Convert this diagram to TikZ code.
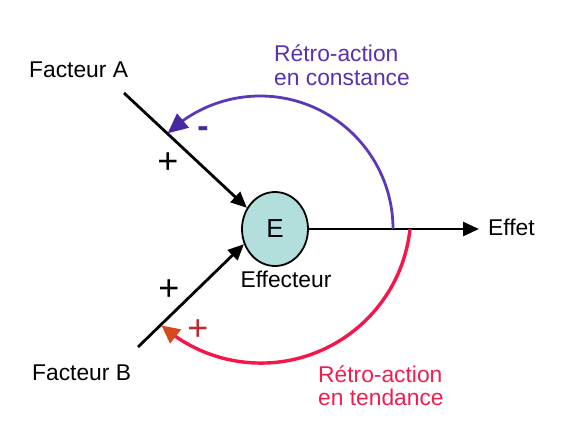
\documentclass[tikz,border=0pt]{standalone}
\usepackage{fontspec}
\setmainfont{Liberation Sans}
\usetikzlibrary{arrows.meta,bending,shapes.geometric}
\definecolor{purp}{RGB}{92,56,182}
\definecolor{purptxt}{RGB}{88,50,175}
\definecolor{purphead}{RGB}{72,40,160}
\definecolor{redarc}{RGB}{245,22,75}
\definecolor{redtxt}{RGB}{240,30,80}
\definecolor{redhead}{RGB}{215,72,28}
\definecolor{redplus}{RGB}{192,40,45}
\definecolor{efill}{RGB}{178,223,219}
\tikzset{
  lbl/.style={inner sep=0pt, font=\fontsize{22.8}{25}\selectfont},
  sign/.style={inner sep=0pt, font=\fontsize{36}{36}\selectfont},
  flow/.style={line width=2.8pt, -{Triangle[length=16pt,width=14pt]}},
}
\begin{document}
\begin{tikzpicture}[x=1pt,y=-1pt]
\useasboundingbox (0,0) rectangle (569,446);
% effector
\node[ellipse, draw, line width=1.8pt, fill=efill, minimum width=66pt, minimum height=74pt, inner sep=0pt,
      font=\fontsize{26}{26}\selectfont] (E) at (275,229) {E};
\node[lbl, anchor=base] (Eff) at (286,287) {Effecteur};
% factors
\coordinate (FA) at (124,93);
\coordinate (FB) at (138,347);
\node[lbl, anchor=base west] (tA) at (29,78) {Facteur A};
\node[lbl, anchor=base west] (tB) at (32,380) {Facteur B};
\draw[flow] (FA) -- (E.143);
\draw[flow] (FB) -- (E.206);
% effect
\node[lbl, anchor=base west] (tEff) at (488,235) {Effet};
\coordinate (Out) at (479,229);
\draw[flow] (E.east) -- (Out);
% signs
\node[sign] (pA) at (168,163) {+};
\node[sign] (pB) at (169,290) {+};
\node[sign, text=redplus] (pR) at (198,330) {+};
\node[inner sep=0pt, font=\fontsize{34}{34}\selectfont\bfseries, text=purphead] (mP) at (203,132) {-};
% feedback in constance
\coordinate (fbP) at (393,229);
\draw[purp, line width=2.8pt, -{Triangle[length=20pt,width=18pt,color=purphead,flex]}]
  (fbP) arc[start angle=0, end angle=-134, radius=133];
\node[lbl, text=purptxt, anchor=base west] (tP1) at (274,62) {Rétro-action};
\node[lbl, text=purptxt, anchor=base west] (tP2) at (274,86) {en constance};
% feedback in tendance
\coordinate (fbR) at (410,229);
\draw[redarc, line width=3.4pt, -{Triangle[length=18pt,width=17pt,color=redhead,flex]}]
  (fbR) arc[start angle=6.1, end angle=131.5, radius=150];
\node[lbl, text=redtxt, anchor=base west] (tR1) at (318,382) {Rétro-action};
\node[lbl, text=redtxt, anchor=base west] (tR2) at (318,405) {en tendance};
\end{tikzpicture}
\end{document}
